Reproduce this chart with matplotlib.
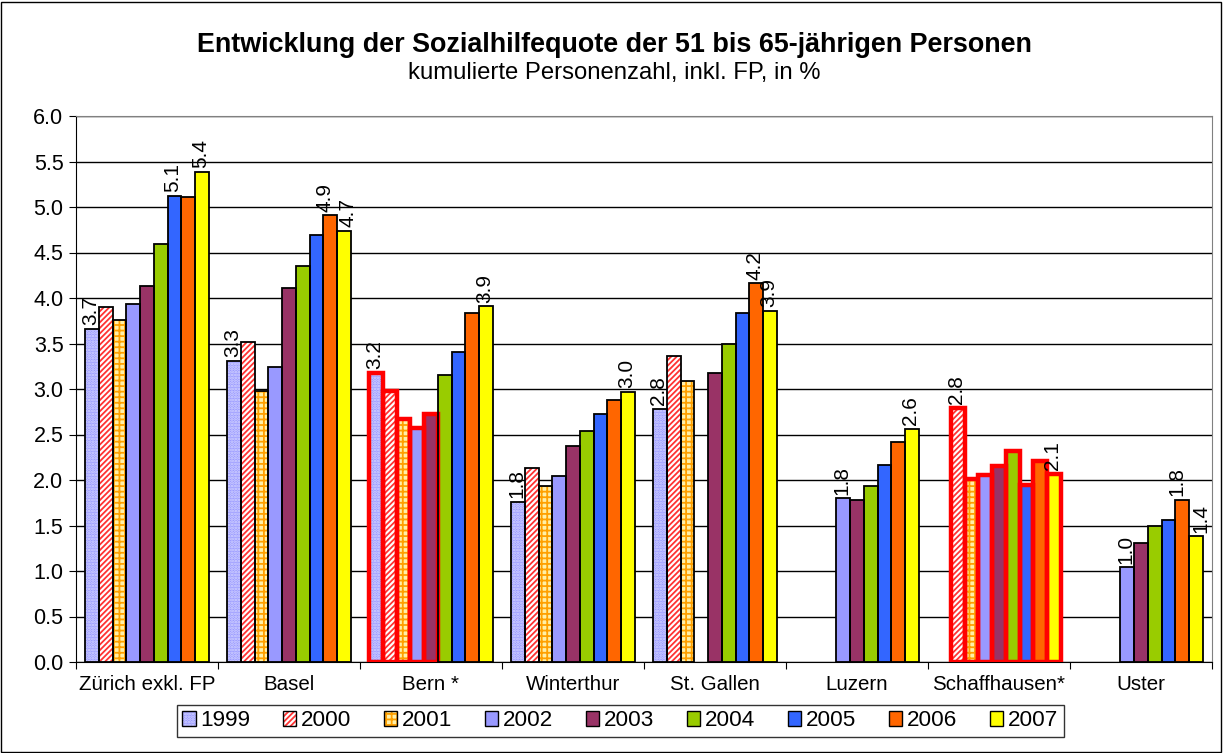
import numpy as np
import matplotlib
matplotlib.use("Agg")
import matplotlib.pyplot as plt
from matplotlib.patches import Patch, Rectangle

plt.rcParams['font.family'] = ['Liberation Sans', 'DejaVu Sans']
plt.rcParams['hatch.linewidth'] = 1.3

nan = np.nan
categories = ["Zürich exkl. FP", "Basel", "Bern *", "Winterthur", "St. Gallen",
              "Luzern", "Schaffhausen*", "Uster"]
years = ["1999", "2000", "2001", "2002", "2003", "2004", "2005", "2006", "2007"]

v1999 = [3.66, 3.31, 3.18, 1.76, 2.78, nan, nan, nan]
v2000 = [3.90, 3.52, 2.98, 2.13, 3.36, nan, 2.79, nan]
v2001 = [3.76, 2.98, 2.67, 1.93, 3.09, nan, 2.01, nan]
v2002 = [3.93, 3.24, 2.57, 2.04, nan, 1.80, 2.06, 1.04]
v2003 = [4.13, 4.11, 2.73, 2.37, 3.18, 1.78, 2.15, 1.31]
v2004 = [4.59, 4.35, 3.15, 2.54, 3.50, 1.93, 2.32, 1.50]
v2005 = [5.12, 4.69, 3.41, 2.72, 3.83, 2.17, 1.95, 1.56]
v2006 = [5.11, 4.91, 3.83, 2.88, 4.16, 2.42, 2.21, 1.78]
v2007 = [5.39, 4.74, 3.91, 2.97, 3.86, 2.56, 2.07, 1.38]
series = [v1999, v2000, v2001, v2002, v2003, v2004, v2005, v2006, v2007]

# which (category index, year index) bars carry a value label
labelled = [(0, 0), (0, 6), (0, 8), (1, 0), (1, 7), (1, 8), (2, 0), (2, 8),
            (3, 0), (3, 8), (4, 0), (4, 7), (4, 8), (5, 3), (5, 8),
            (6, 1), (6, 8), (7, 3), (7, 7), (7, 8)]
# horizontal nudges (in category units) for crowded labels
label_nudge = {(1, 7): -0.035, (1, 8): 0.03, (7, 7): -0.04, (7, 8): 0.035}
# bars with red outline (category index, year index)
red_outlined = [(2, 0), (2, 1), (2, 2), (2, 3), (2, 4)] + [(6, j) for j in range(1, 9)]

yticks = [0.0, 0.5, 1.0, 1.5, 2.0, 2.5, 3.0, 3.5, 4.0, 4.5, 5.0, 5.5, 6.0]

face = ['#9999FF', 'white', '#FFF0A8', '#9999FF', '#993366', '#99CC00', '#3366FF', '#FF6600', '#FFFF00']
hatch = ['......', '//////', '+++', None, None, None, None, None, None]
hcol = ['#D8D8FF', '#FF3333', '#FFA000', None, None, None, None, None, None]

fig = plt.figure(figsize=(12.23, 7.53), dpi=100)
ax = fig.add_axes([76/1223, 1-662/753, (1212-76)/1223, (662-116)/753])

w = 0.0965
ncat = len(categories)
for j, vals in enumerate(series):
    xs = np.arange(ncat) + 0.5 + (j - 4) * w
    for i, v in enumerate(vals):
        if np.isnan(v):
            continue
        ax.bar(xs[i], v, w, color=face[j], edgecolor='none', zorder=3)
        if hatch[j]:
            ax.bar(xs[i], v, w, color='none', edgecolor=hcol[j], hatch=hatch[j], linewidth=0, zorder=3.5)
        if (i, j) in red_outlined:
            ax.bar(xs[i], v, w, color='none', edgecolor='#FF0000', linewidth=3.2, zorder=4)
        else:
            ax.bar(xs[i], v, w, color='none', edgecolor='black', linewidth=1.3, zorder=4)
        if (i, j) in labelled:
            dx = label_nudge.get((i, j), -0.01)
            ax.text(xs[i] + dx, v + 0.04, f"{v:.1f}", rotation=90, ha='center', va='bottom',
                    fontsize=15, zorder=5)

ax.set_xlim(0, ncat)
ax.set_ylim(0, 6.0)
ax.set_yticks(yticks)
ax.set_yticklabels([f"{t:.1f}" for t in yticks], fontsize=15.5)
ax.yaxis.grid(True, color='black', linewidth=1.0, zorder=0)
ax.set_axisbelow(True)
ax.set_xticks(np.arange(ncat + 1))
ax.set_xticklabels([])
ax.set_xticks(np.arange(ncat) + 0.5, minor=True)
ax.set_xticklabels(categories, minor=True, fontsize=14.8)
ax.tick_params(axis='x', which='minor', length=0, pad=9)
ax.tick_params(axis='x', which='major', length=5, direction='out', color='black')
ax.tick_params(axis='y', length=5, direction='out', pad=4)
for s in ['top', 'right']:
    ax.spines[s].set_color('#808080')
ax.spines['left'].set_color('black')
ax.spines['bottom'].set_color('black')

fig.text(0.502, 1-45/753, "Entwicklung der Sozialhilfequote der 51 bis 65-jährigen Personen",
         ha='center', va='center', fontsize=19.4, fontweight='bold')
fig.text(0.502, 1-73/753, "kumulierte Personenzahl, inkl. FP, in %", ha='center', va='center', fontsize=17.2)

handles = []
for j in range(9):
    parts = [Patch(facecolor=face[j], edgecolor='none')]
    if hatch[j]:
        parts.append(Patch(facecolor='none', edgecolor=hcol[j], hatch=hatch[j], linewidth=0))
    parts.append(Patch(facecolor='none', edgecolor='black', linewidth=1.0))
    handles.append(tuple(parts))
leg = fig.legend(handles, years, loc='center', bbox_to_anchor=(0.507, 1-721/753), ncol=9,
                 frameon=True, fancybox=False, edgecolor='black', fontsize=16.2,
                 handlelength=0.6, handleheight=0.6, handletextpad=0.2, columnspacing=1.45,
                 borderpad=0.25)
leg.get_frame().set_linewidth(1.0)

fig.patches.append(Rectangle((0.001, 0.001), 0.997, 0.997, transform=fig.transFigure,
                             fill=False, edgecolor='black', linewidth=1.0))

fig.savefig("out.png", dpi=100)
